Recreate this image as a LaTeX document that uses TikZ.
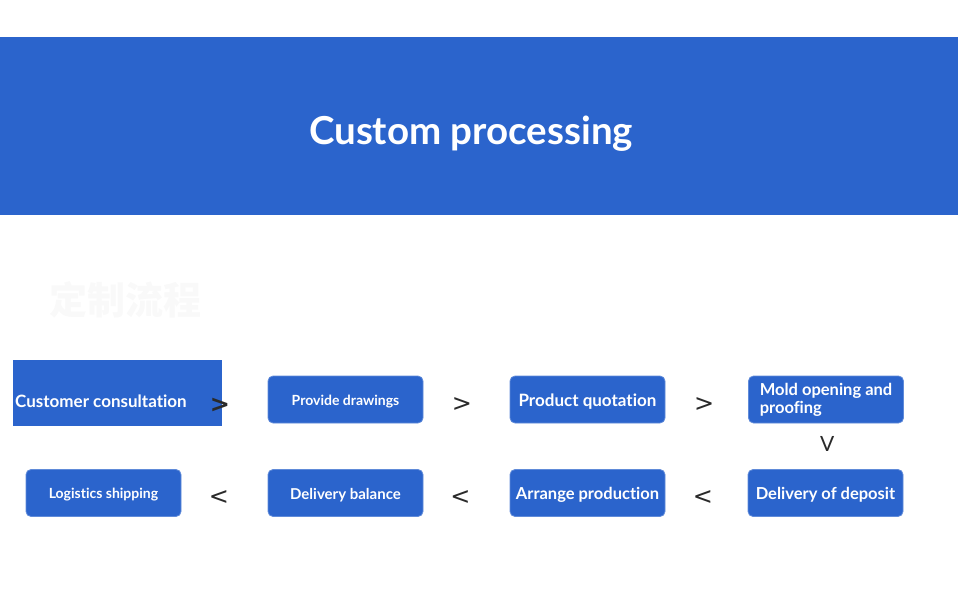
\documentclass[tikz,border=0pt]{standalone}
\usepackage{fontspec}
\setmainfont{Lato}[Ligatures={NoCommon}]
\newfontfamily\cjk{Noto Sans CJK SC}
\newfontfamily\chevfont{DejaVu Sans}
\definecolor{bannerblue}{HTML}{2B64CC}
\definecolor{boxblue}{HTML}{2B64CC}
\definecolor{chev}{HTML}{2A2A2A}
\newcommand{\lowr}[1]{\raisebox{-2pt}[\height][\depth]{#1}}
\tikzset{
  x=1pt, y=-1pt,
  stepbox/.style={fill=boxblue, draw=boxblue!75!white, line width=0.8pt, rounded corners=5pt,
    minimum width=155pt, minimum height=47pt, text=white, font=\bfseries, inner sep=0pt},
  chevron/.style={text=chev, font=\chevfont\fontsize{24}{24}\selectfont, inner sep=0pt},
}
\begin{document}
\begin{tikzpicture}
\useasboundingbox (0,0) rectangle (960,605);
% banner
\fill[bannerblue] (0,37) rectangle (958,215);
\node[text=white, font=\bfseries\fontsize{38.5}{42}\selectfont] (title) at (471,134) {Custom processing};
% faint watermark text
\node[text=black!2.5, font=\cjk\bfseries\fontsize{38}{40}\selectfont, anchor=west] (wm) at (46,300) {定制流程};
% first box (sharp corners)
\node[fill=boxblue, minimum width=209pt, minimum height=66pt, inner sep=0pt] (cc) at (117.5,393) {};
\node[text=white, font=\bfseries\fontsize{17}{20}\selectfont, anchor=west, inner sep=0pt] (cct) at (15,401.5) {Customer consultation};
% row 1
\node[stepbox, font=\bfseries\fontsize{14}{16}\selectfont] (pd) at (345.5,399.5) {\lowr{Provide drawings}};
\node[stepbox, font=\bfseries\fontsize{17}{20}\selectfont] (pq) at (587.5,399.5) {\lowr{Product quotation}};
\node[stepbox, font=\bfseries\fontsize{16.5}{18}\selectfont, align=left] (mo) at (826,399.5) {Mold opening and\\proofing};
% row 2
\node[stepbox, font=\bfseries\fontsize{16.5}{20}\selectfont] (dd) at (825.5,493) {\lowr{Delivery of deposit}};
\node[stepbox, font=\bfseries\fontsize{16.5}{20}\selectfont] (ap) at (587.5,493) {\lowr{Arrange production}};
\node[stepbox, font=\bfseries\fontsize{15}{18}\selectfont] (db) at (345.5,493) {\lowr{Delivery balance}};
\node[stepbox, font=\bfseries\fontsize{14}{16}\selectfont] (ls) at (103.5,493) {\lowr{Logistics shipping}};
% chevrons
\node[chevron, font=\chevfont\bfseries\fontsize{24}{24}\selectfont] (c1) at (220,405) {>};
\path (pd.east) -- node[chevron, pos=0.5, xshift=-4.5pt, yshift=-5.5pt] (c2) {>} (pq.west);
\path (pq.east) -- node[chevron, pos=0.5, xshift=-2.5pt, yshift=-5.5pt] (c3) {>} (mo.west);
\path (mo.south) -- node[chevron, pos=0.5, xshift=1.5pt, yshift=2.5pt, font=\fontsize{21}{21}\selectfont] (c4) {V} (dd.north);
\path (dd.west) -- node[chevron, pos=0.5, xshift=-3.5pt, yshift=-5pt] (c5) {<} (ap.east);
\path (ap.west) -- node[chevron, pos=0.5, xshift=-6pt, yshift=-5pt] (c6) {<} (db.east);
\path (db.west) -- node[chevron, pos=0.5, xshift=-5.5pt, yshift=-5pt] (c7) {<} (ls.east);
\end{tikzpicture}
\end{document}
